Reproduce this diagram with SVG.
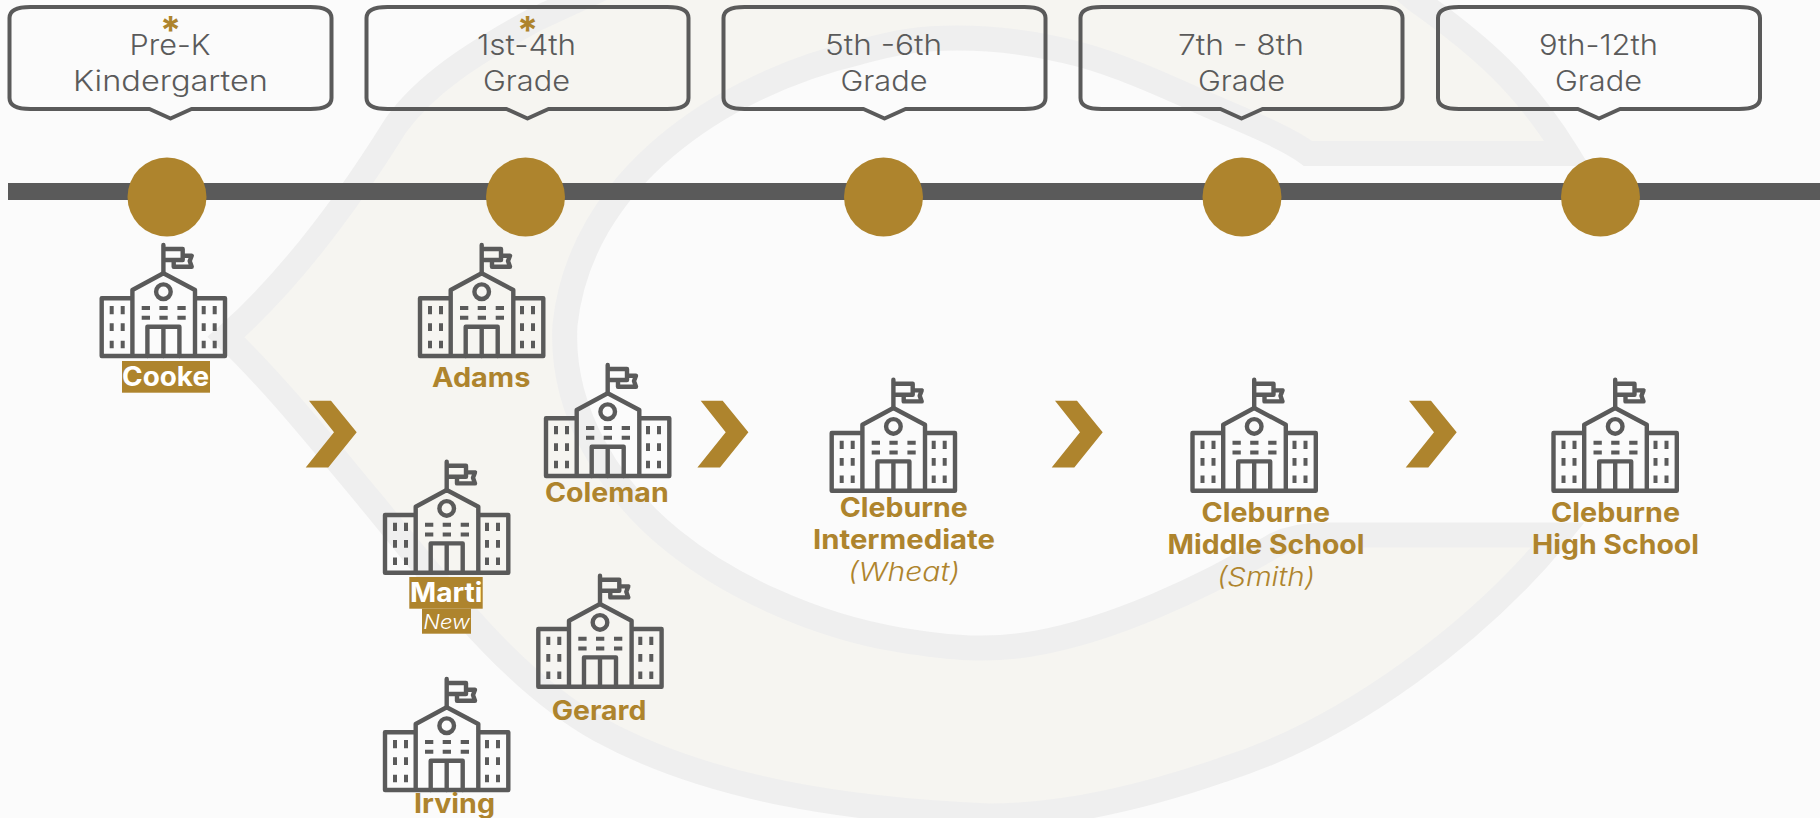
<svg xmlns="http://www.w3.org/2000/svg" width="1820" height="818" viewBox="0 0 1820 818">
<style>
text{font-family:"Inter","Liberation Sans",sans-serif}
.g{font-weight:300;font-size:28px;fill:#5a5a5a}
.b{font-weight:700;font-size:26.5px;fill:#ae842d}
.w{font-weight:700;font-size:26.5px;fill:#fff}
.i{font-weight:300;font-style:italic;font-size:26px;fill:#ae842d}
.n{font-weight:300;font-style:italic;font-size:20px;fill:#fff}
.a{font-weight:700;font-size:38px;fill:#ae842d}
.c{fill:none;stroke:#5a5a5a;stroke-width:4;stroke-linejoin:round}
.s{fill:none;stroke:#5a5a5a;stroke-width:4.4;stroke-linejoin:round;stroke-linecap:round}
.d{fill:none;stroke:#5a5a5a;stroke-width:4}
.dot{fill:#ae842d}
</style>
<defs>
<path id="callout" d="M-140 7H140Q161 7 161 18V98Q161 109 140 109H21L0 118.5L-21 109H-140Q-161 109-161 98V18Q-161 7-140 7Z"/>
<g id="school">
<path class="s" d="M61.7 28.3V0M61.7 4H81V15H61.7M72 15V21.7H90L88 16L90 10.7H81"/>
<path class="s" d="M0 111V53.3H30.7M123.3 111V53.3H93.3M30.7 111V45L61.7 28.3L93.3 45V111M0 111H123.3"/>
<circle class="s" cx="61.7" cy="46.7" r="7.3"/>
<path class="s" d="M45.7 111V81.7H77.7V111M61.7 81.7V111"/>
<path class="d" d="M40 63H48.3M57.7 63H66M75.7 63H84M40 72.7H48.3M57.7 72.7H66M75.7 72.7H84"/>
<path class="d" d="M10 61V69.3M21 61V69.3M10 78.3V86M21 78.3V86M10 95.7V103.3M21 95.7V103.3M102 61V69.3M113 61V69.3M102 78.3V86M113 78.3V86M102 95.7V103.3M113 95.7V103.3"/>
</g>
<path id="chev" d="M309 400.7H331L356.7 432.3L328.3 467.5H305.7L334 432.3Z" fill="#ae842d"/>
</defs>
<rect width="1820" height="818" fill="#fbfbfb"/>
<path id="backdrop" fill="#f6f5f1" stroke="#efefef" stroke-width="25" stroke-miterlimit="10" d="M226 337C285 285 340 215 396 125C425 85 470 55 534 20L620-20L1380-30L1416 0C1480 45 1525 85 1567 153.5H1308C1285 136 1237 118 1199 101C1161 84 1118 64.5 1078 54C1038 43.5 993 38 957 38C921 38 898 41.5 860 52C720 85 580 180 565 325C560 410 610 490 672 540C725 583 810 625 900 640C950 648 990 652 1037 643C1110 630 1200 590 1275 545Q1295 535 1324 535H1558C1480 630 1350 730 1222 770C1150 795 1070 816 989 816C850 810 710 790 600 730C510 680 440 585 370 500C320 440 270 378 226 337Z"/>
<g id="timeline"><rect x="8" y="183" width="1812" height="17" fill="#5a5a5a"/></g>
<g id="connectors">
<use href="#chev"/>
<use href="#chev" x="391.7"/>
<use href="#chev" x="746"/>
<use href="#chev" x="1100"/>
</g>
<g id="stage-prek">
<use href="#callout" class="c" x="170.5"/>
<text class="a" x="160" y="44">*</text>
<text class="g" x="129.5" y="55" textLength="81" lengthAdjust="spacingAndGlyphs">Pre-K</text>
<text class="g" x="73" y="91" textLength="195" lengthAdjust="spacingAndGlyphs">Kindergarten</text>
<circle class="dot" cx="167" cy="197" r="39.5"/>
</g>
<g id="stage-1-4">
<use href="#callout" class="c" x="527.5"/>
<text class="a" x="517" y="44">*</text>
<text class="g" x="477" y="55" textLength="99" lengthAdjust="spacingAndGlyphs">1st-4th</text>
<text class="g" x="483" y="91" textLength="87" lengthAdjust="spacingAndGlyphs">Grade</text>
<circle class="dot" cx="525.5" cy="197" r="39.5"/>
</g>
<g id="stage-5-6">
<use href="#callout" class="c" x="884.5"/>
<text class="g" x="825" y="55" textLength="117" lengthAdjust="spacingAndGlyphs">5th -6th</text>
<text class="g" x="840.5" y="91" textLength="87" lengthAdjust="spacingAndGlyphs">Grade</text>
<circle class="dot" cx="883.5" cy="197" r="39.5"/>
</g>
<g id="stage-7-8">
<use href="#callout" class="c" x="1241.5"/>
<text class="g" x="1178" y="55" textLength="126" lengthAdjust="spacingAndGlyphs">7th - 8th</text>
<text class="g" x="1198" y="91" textLength="87" lengthAdjust="spacingAndGlyphs">Grade</text>
<circle class="dot" cx="1242" cy="197" r="39.5"/>
</g>
<g id="stage-9-12">
<use href="#callout" class="c" x="1599"/>
<text class="g" x="1539" y="55" textLength="119" lengthAdjust="spacingAndGlyphs">9th-12th</text>
<text class="g" x="1555" y="91" textLength="87" lengthAdjust="spacingAndGlyphs">Grade</text>
<circle class="dot" cx="1600.5" cy="197" r="39.5"/>
</g>
<g id="school-cooke">
<use href="#school" x="101.7" y="245"/>
<rect x="122" y="361" width="88" height="31.7" fill="#ae842d"/>
<text class="w" x="122" y="386" textLength="87" lengthAdjust="spacingAndGlyphs">Cooke</text>
</g>
<g id="school-adams">
<use href="#school" x="420" y="245"/>
<text class="b" x="432" y="386.7" textLength="98.4" lengthAdjust="spacingAndGlyphs">Adams</text>
</g>
<g id="school-coleman">
<use href="#school" x="546" y="365"/>
<text class="b" x="545" y="501.7" textLength="123.7" lengthAdjust="spacingAndGlyphs">Coleman</text>
</g>
<g id="school-marti">
<use href="#school" x="385" y="461.7"/>
<rect x="409.3" y="577" width="73.4" height="31.7" fill="#ae842d"/>
<rect x="422" y="608.7" width="49" height="25" fill="#ae842d"/>
<text class="w" x="410" y="601.7" textLength="72.5" lengthAdjust="spacingAndGlyphs">Marti</text>
<text class="n" x="423.3" y="629.3" textLength="46.7" lengthAdjust="spacingAndGlyphs">New</text>
</g>
<g id="school-gerard">
<use href="#school" x="538.3" y="575.7"/>
<text class="b" x="551.7" y="719.6" textLength="94.7" lengthAdjust="spacingAndGlyphs">Gerard</text>
</g>
<g id="school-irving">
<use href="#school" x="385" y="679"/>
<text class="b" x="414" y="812.7" textLength="81" lengthAdjust="spacingAndGlyphs">Irving</text>
</g>
<g id="school-intermediate">
<use href="#school" x="831.7" y="379.7"/>
<text class="b" x="839.7" y="516.7" textLength="128" lengthAdjust="spacingAndGlyphs">Cleburne</text>
<text class="b" x="813" y="549" textLength="182" lengthAdjust="spacingAndGlyphs">Intermediate</text>
<text class="i" x="848" y="580.7" textLength="112" lengthAdjust="spacingAndGlyphs">(Wheat)</text>
</g>
<g id="school-middle">
<use href="#school" x="1192.5" y="379.7"/>
<text class="b" x="1201.5" y="521.7" textLength="128.5" lengthAdjust="spacingAndGlyphs">Cleburne</text>
<text class="b" x="1167.5" y="554" textLength="197" lengthAdjust="spacingAndGlyphs">Middle School</text>
<text class="i" x="1217" y="585.7" textLength="98" lengthAdjust="spacingAndGlyphs">(Smith)</text>
</g>
<g id="school-high">
<use href="#school" x="1553.5" y="379.7"/>
<text class="b" x="1551" y="521.7" textLength="129" lengthAdjust="spacingAndGlyphs">Cleburne</text>
<text class="b" x="1532" y="554" textLength="167" lengthAdjust="spacingAndGlyphs">High School</text>
</g>
</svg>
